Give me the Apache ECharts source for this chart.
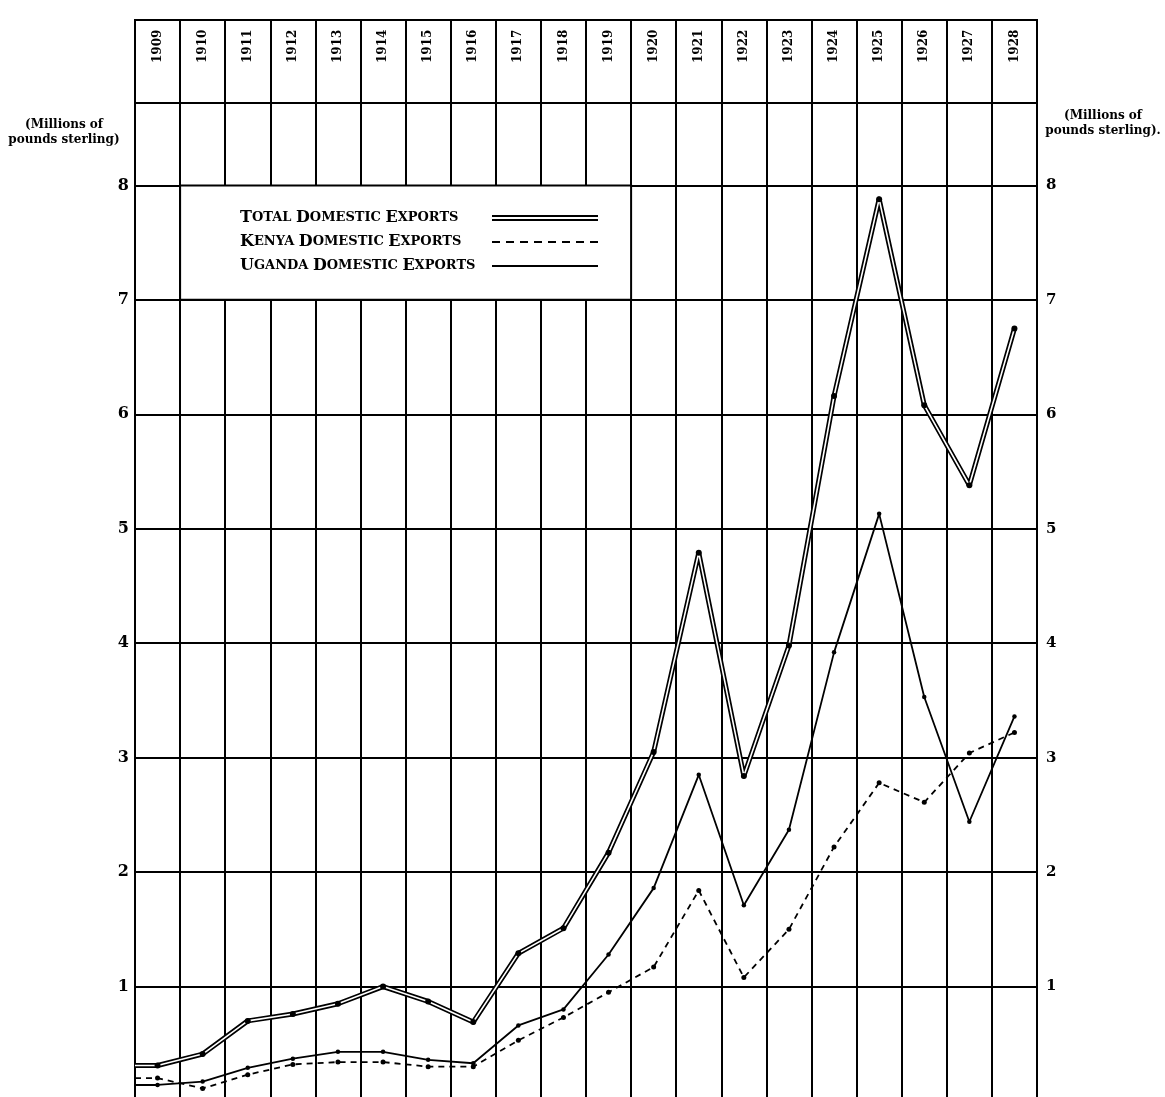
<!DOCTYPE html>
<html>
<head>
<meta charset="utf-8">
<title>East Africa domestic exports 1909-1928</title>
<script src="https://cdn.jsdelivr.net/npm/echarts@6.0.0/dist/echarts.min.js"></script>
<style>
    html, body { margin: 0; padding: 0; background: #fff; }
    #chart { width: 1165px; height: 1097px; }
</style>
</head>
<body>
<div id="chart"></div>
<script>
var years = ['1909', '1910', '1911', '1912', '1913', '1914', '1915', '1916', '1917', '1918',
    '1919', '1920', '1921', '1922', '1923', '1924', '1925', '1926', '1927', '1928'];

// millions of pounds sterling
var totalExports = [0.31, 0.41, 0.70, 0.76, 0.85, 1.00, 0.87, 0.69, 1.29, 1.51,
    2.17, 3.05, 4.79, 2.84, 3.98, 6.16, 7.88, 6.08, 5.38, 6.75];
var kenyaExports = [0.20, 0.11, 0.23, 0.32, 0.34, 0.34, 0.30, 0.30, 0.53, 0.73,
    0.95, 1.17, 1.84, 1.08, 1.50, 2.22, 2.78, 2.61, 3.04, 3.22];
var ugandaExports = [0.14, 0.17, 0.29, 0.37, 0.43, 0.43, 0.36, 0.33, 0.66, 0.80,
    1.28, 1.86, 2.85, 1.71, 2.37, 3.92, 5.13, 3.53, 2.44, 3.36];

var seriesNames = ['Total Domestic Exports', 'Kenya Domestic Exports', 'Uganda Domestic Exports'];

var serif = 'DejaVu Serif';

// lines start at the left edge of the sheet, flat up to the first year
function toPoints(vals) {
    var pts = [{ value: [-0.5, vals[0]], symbol: 'none' }];
    vals.forEach(function (v, i) { pts.push([i, v]); });
    return pts;
}

// small caps: first letter big, the rest upper-case and smaller
function smallCaps(name) {
    return name.split(' ').map(function (w) {
        return '{a|' + w.charAt(0).toUpperCase() + '}{b|' + w.slice(1).toUpperCase() + '}';
    }).join('{b| }');
}

// legend icons, 106 x 6; tiny dots at the corners keep the box height
var frame = 'M0,0h0.01v0.01h-0.01Z M0,5.99h0.01v0.01h-0.01Z ';
var iconDouble = 'path://M0,0H106V2H0Z M0,4H106V6H0Z';
var iconSolid = 'path://' + frame + 'M0,2H106V4H0Z';
var dashPath = frame;
for (var d = 0; d < 106; d += 14) {
    dashPath += 'M' + d + ',2H' + Math.min(d + 8, 106) + 'V4H' + d + 'Z ';
}
var iconDash = 'path://' + dashPath;

function yLabel(v) {
    return (v >= 1 && v % 1 === 0) ? String(v) : '';
}

var chart = echarts.init(document.getElementById('chart'));

var titleFont = { fontFamily: serif, fontWeight: 'bold', fontSize: 12, lineHeight: 15, color: '#000' };

var option = {
    backgroundColor: '#fff',
    animation: false,
    title: [
        {
            text: '(Millions of\npounds sterling)',
            left: 64, top: 117, textAlign: 'center', padding: 0,
            textStyle: titleFont
        },
        {
            text: '(Millions of\npounds sterling).',
            left: 1103, top: 108, textAlign: 'center', padding: 0,
            textStyle: titleFont
        }
    ],
    legend: {
        orient: 'vertical',
        left: 240,
        top: 210,
        padding: 0,
        align: 'right',
        itemGap: 8,
        itemWidth: 106,
        itemHeight: 6,
        selectedMode: false,
        data: [
            { name: seriesNames[0], icon: iconDouble },
            { name: seriesNames[1], icon: iconDash },
            { name: seriesNames[2], icon: iconSolid }
        ],
        formatter: smallCaps,
        textStyle: {
            width: 247,
            color: '#000',
            rich: {
                a: { fontFamily: serif, fontWeight: 'bold', fontSize: 16, lineHeight: 16, color: '#000', align: 'left' },
                b: { fontFamily: serif, fontWeight: 'bold', fontSize: 13, lineHeight: 16, color: '#000', align: 'left' }
            }
        }
    },
    grid: [
        // year header box
        { left: 135, right: 128, top: 20, height: 83, show: true, borderColor: '#000', borderWidth: 2, outerBoundsMode: 'none' },
        // main sheet, zero sits just below the page
        { left: 135, right: 128, top: 103, bottom: -4, show: true, borderColor: '#000', borderWidth: 2, outerBoundsMode: 'none' }
    ],
    xAxis: [
        {
            gridIndex: 0,
            type: 'category',
            data: years,
            boundaryGap: true,
            position: 'bottom',
            axisLine: { show: false },
            axisTick: { show: false },
            splitLine: { show: true, interval: 0, lineStyle: { color: '#000', width: 2 } },
            axisLabel: {
                inside: true, rotate: 90, margin: 40, interval: 0,
                fontFamily: serif, fontWeight: 'bold', fontSize: 12, color: '#000'
            }
        },
        {
            gridIndex: 1,
            type: 'value',
            min: -0.5,
            max: 19.5,
            interval: 1,
            axisLine: { show: false },
            axisTick: { show: false },
            axisLabel: { show: false },
            splitLine: { show: true, lineStyle: { color: '#000', width: 2 } }
        }
    ],
    yAxis: [
        { gridIndex: 0, type: 'value', show: false },
        {
            gridIndex: 1,
            type: 'value',
            min: 0, max: 8.72, interval: 1,
            position: 'left',
            axisLine: { show: false },
            axisTick: { show: false },
            splitLine: { show: true, lineStyle: { color: '#000', width: 2 } },
            axisLabel: {
                formatter: yLabel, margin: 6, showMaxLabel: false, showMinLabel: false,
                fontFamily: serif, fontWeight: 'bold', fontSize: 16, color: '#000'
            }
        },
        {
            gridIndex: 1,
            type: 'value',
            min: 0, max: 8.72, interval: 1,
            position: 'right',
            axisLine: { show: false },
            axisTick: { show: false },
            splitLine: { show: false },
            axisLabel: {
                formatter: yLabel, margin: 9, showMaxLabel: false, showMinLabel: false,
                fontFamily: serif, fontWeight: 'bold', fontSize: 15, color: '#000'
            }
        }
    ],
    series: [
        {
            name: seriesNames[0],
            type: 'line',
            xAxisIndex: 1, yAxisIndex: 1,
            data: toPoints(totalExports),
            symbol: 'none',
            itemStyle: { color: '#000' },
            lineStyle: { color: '#000', width: 5, join: 'round' },
            z: 3
        },
        {
            // white core of the double line
            name: 'total-core',
            type: 'line',
            xAxisIndex: 1, yAxisIndex: 1,
            data: toPoints(totalExports),
            symbol: 'circle',
            symbolSize: 6,
            silent: true,
            itemStyle: { color: '#000' },
            lineStyle: { color: '#fff', width: 1.6, join: 'round' },
            z: 4
        },
        {
            name: seriesNames[1],
            type: 'line',
            xAxisIndex: 1, yAxisIndex: 1,
            data: toPoints(kenyaExports),
            symbol: 'circle',
            symbolSize: 5,
            itemStyle: { color: '#000' },
            lineStyle: { color: '#000', width: 1.8, type: [6, 5] },
            z: 3
        },
        {
            name: seriesNames[2],
            type: 'line',
            xAxisIndex: 1, yAxisIndex: 1,
            data: toPoints(ugandaExports),
            symbol: 'circle',
            symbolSize: 4.5,
            itemStyle: { color: '#000' },
            lineStyle: { color: '#000', width: 1.8 },
            z: 3,
            // blank panel behind the key
            markArea: {
                silent: true,
                label: { show: false },
                itemStyle: { color: '#fff', borderColor: '#000', borderWidth: 2 },
                data: [[{ coord: [0.5, 8] }, { coord: [10.5, 7] }]]
            }
        }
    ]
};

chart.setOption(option);
</script>
</body>
</html>
